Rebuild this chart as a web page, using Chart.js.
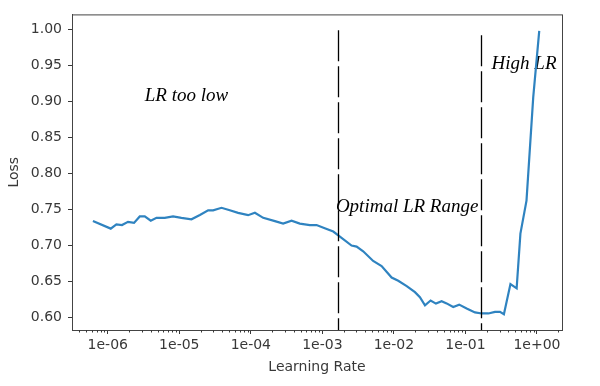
<!DOCTYPE html>
<html>
<head>
<meta charset="utf-8">
<script src="https://cdn.jsdelivr.net/npm/chart.js@4/dist/chart.umd.min.js"></script>
<style>
  html, body { margin: 0; padding: 0; background: #fff; }
  #wrap { width: 600px; height: 386px; }
</style>
</head>
<body>
<div id="wrap"><canvas id="lrChart" width="600" height="386"></canvas></div>
<script>
// learning rate finder curve
const learningRates = [
  6.2e-7, 1.10e-6, 1.32e-6, 1.58e-6, 1.92e-6, 2.33e-6, 2.80e-6, 3.29e-6, 3.99e-6, 4.80e-6,
  6.26e-6, 8.18e-6, 1.07e-5, 1.48e-5, 1.94e-5, 2.53e-5, 2.97e-5, 3.89e-5, 5.08e-5, 6.64e-5,
  9.16e-5, 1.14e-4, 1.49e-4, 2.17e-4, 2.83e-4, 3.71e-4, 4.84e-4, 6.68e-4, 8.29e-4, 1.08e-3,
  1.42e-3, 1.76e-3, 2.56e-3, 3.01e-3, 3.72e-3, 5.13e-3, 6.73e-3, 9.29e-3, 1.15e-2, 1.51e-2,
  1.97e-2, 2.31e-2, 2.72e-2, 3.26e-2, 3.87e-2, 4.65e-2, 5.46e-2, 6.75e-2, 8.18e-2, 0.104,
  0.136, 0.169, 0.209, 0.259, 0.304, 0.345, 0.426, 0.520, 0.587, 0.714, 0.887, 1.076
];
const losses = [
  0.7335, 0.723, 0.729, 0.728, 0.7325, 0.731, 0.740, 0.740, 0.734, 0.738,
  0.738, 0.740, 0.738, 0.736, 0.742, 0.7485, 0.7485, 0.752, 0.7485, 0.745,
  0.7417, 0.745, 0.738, 0.7335, 0.730, 0.734, 0.730, 0.728, 0.728, 0.7235,
  0.719, 0.712, 0.6995, 0.698, 0.6915, 0.678, 0.671, 0.655, 0.6505, 0.643,
  0.6346, 0.6277, 0.6164, 0.623, 0.6187, 0.622, 0.619, 0.614, 0.6173, 0.612,
  0.6065, 0.605, 0.605, 0.6073, 0.6073, 0.604, 0.646, 0.640, 0.716, 0.762, 0.906, 0.998
];

const yTicks = [0.60, 0.65, 0.70, 0.75, 0.80, 0.85, 0.90, 0.95, 1.00];
const xTickExponents = [-6, -5, -4, -3, -2, -1, 0];

// dashed range markers: lr position and top loss
const markerLr = [1.67e-3, 0.166];
const markerTop = [0.999, 0.992];

// region labels: text, lr of left edge, loss at baseline
const regionText = ['LR too low', 'Optimal LR Range', 'High LR'];
const regionLr = [3.29e-6, 1.545e-3, 0.232];
const regionLoss = [0.9005, 0.746, 0.9456];

const points = learningRates.map((lr, i) => ({ x: lr, y: losses[i] }));

const fmtExp = v => {
  const e = Math.round(Math.log10(v));
  return '1e' + (e < 0 ? '-' : '+') + String(Math.abs(e)).padStart(2, '0');
};

const tickFont = { family: 'DejaVu Sans', size: 14 };
const inkColor = '#383838';

const extras = {
  id: 'extras',
  beforeDatasetsDraw(chart) {
    const { ctx, scales: { x, y } } = chart;
    ctx.save();
    ctx.font = 'italic 19px "Liberation Serif"';
    ctx.fillStyle = '#000';
    ctx.textBaseline = 'alphabetic';
    regionText.forEach((t, i) => {
      ctx.fillText(t, x.getPixelForValue(regionLr[i]), y.getPixelForValue(regionLoss[i]));
    });
    ctx.restore();
  },
  afterDatasetsDraw(chart) {
    const { ctx, chartArea: a, scales: { x, y } } = chart;
    ctx.save();
    // dashed markers
    ctx.strokeStyle = '#000';
    ctx.lineWidth = 1.3;
    ctx.setLineDash([31, 5]);
    markerLr.forEach((lr, i) => {
      const px = Math.round(x.getPixelForValue(lr)) + 0.5;
      ctx.beginPath();
      ctx.moveTo(px, y.getPixelForValue(markerTop[i]));
      ctx.lineTo(px, a.bottom);
      ctx.stroke();
    });
    ctx.setLineDash([]);
    // frame
    ctx.strokeStyle = '#444';
    ctx.lineWidth = 1;
    ctx.strokeRect(a.left + 0.5, a.top + 0.5, a.right - a.left, a.bottom - a.top);
    // minor log ticks
    ctx.strokeStyle = inkColor;
    for (let d = -7; d <= 0; d++) {
      for (let k = 2; k <= 9; k++) {
        const v = k * Math.pow(10, d);
        if (v < x.min || v > x.max) continue;
        const px = Math.round(x.getPixelForValue(v)) + 0.5;
        ctx.beginPath();
        ctx.moveTo(px, a.bottom);
        ctx.lineTo(px, a.bottom + 2.5);
        ctx.stroke();
      }
    }
    ctx.restore();
  }
};

new Chart(document.getElementById('lrChart'), {
  type: 'line',
  data: {
    datasets: [{
      label: 'Loss',
      data: points,
      borderColor: '#2f83c0',
      borderWidth: 2.2,
      pointRadius: 0,
      tension: 0,
      fill: false
    }]
  },
  options: {
    responsive: false,
    animation: false,
    layout: { padding: { top: 12, right: 38, left: 0, bottom: 0 } },
    plugins: {
      legend: { display: false },
      tooltip: { enabled: false }
    },
    scales: {
      x: {
        type: 'logarithmic',
        min: Math.pow(10, -6.5),
        max: Math.pow(10, 0.35),
        afterBuildTicks: s => { s.ticks = xTickExponents.map(e => ({ value: Math.pow(10, e) })); },
        afterFit: s => { s.height = 56; },
        ticks: {
          callback: v => fmtExp(v),
          font: tickFont,
          color: inkColor,
          padding: 3,
          maxRotation: 0,
          autoSkip: false
        },
        grid: { drawOnChartArea: false, drawTicks: true, tickLength: 4, tickColor: inkColor },
        border: { display: true, color: '#444' },
        title: {
          display: true,
          text: 'Learning Rate',
          font: tickFont,
          color: inkColor,
          padding: { top: 0, bottom: 10 }
        }
      },
      y: {
        min: 0.582,
        max: 1.021,
        afterBuildTicks: s => { s.ticks = yTicks.map(v => ({ value: v })); },
        afterFit: s => { s.width = 72; },
        ticks: {
          callback: v => v.toFixed(2),
          font: tickFont,
          color: inkColor,
          padding: 6
        },
        grid: { drawOnChartArea: false, drawTicks: true, tickLength: 4, tickColor: inkColor },
        border: { display: true, color: '#444' },
        title: {
          display: true,
          text: 'Loss',
          font: tickFont,
          color: inkColor,
          padding: { top: 6, bottom: 0 }
        }
      }
    }
  },
  plugins: [extras]
});
</script>
</body>
</html>
